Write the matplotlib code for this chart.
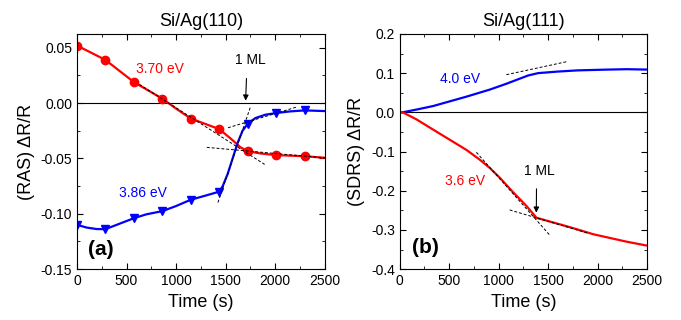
import matplotlib
matplotlib.use('Agg')
import matplotlib.pyplot as plt
from matplotlib.ticker import MultipleLocator, FormatStrFormatter

plt.rcParams['font.family'] = ['Liberation Sans', 'DejaVu Sans']

# Panel (a): Si/Ag(110), RAS
a_red_t = [0, 287, 574, 861, 1148, 1435, 1722, 2009, 2296]
a_red_v = [0.052, 0.039, 0.019, 0.004, -0.014, -0.0235, -0.0434, -0.047, -0.048]
a_red_line_t = [0, 287, 574, 861, 1000, 1148, 1300, 1435, 1550, 1650, 1722,
                1850, 2009, 2150, 2296, 2500]
a_red_line_v = [0.052, 0.039, 0.019, 0.004, -0.005, -0.014, -0.019, -0.0235,
                -0.032, -0.040, -0.0434, -0.0455, -0.047, -0.0475, -0.048, -0.0494]

a_blue_t = [0, 287, 574, 861, 1148, 1435, 1722, 2009, 2296]
a_blue_v = [-0.110, -0.1139, -0.104, -0.0976, -0.0873, -0.080, -0.0187, -0.009, -0.0066]
a_blue_line_t = [0, 100, 200, 287, 400, 574, 700, 861, 1000, 1148, 1300, 1435,
                 1470, 1520, 1570, 1620, 1670, 1722, 1800, 1900, 2009, 2150,
                 2296, 2500]
a_blue_line_v = [-0.110, -0.1125, -0.1138, -0.1139, -0.110, -0.104, -0.1005,
                 -0.0976, -0.093, -0.0873, -0.0835, -0.080, -0.075, -0.064,
                 -0.050, -0.036, -0.025, -0.0187, -0.0135, -0.0105, -0.009,
                 -0.0075, -0.0066, -0.0072]

# tangent lines (a): end points
a_tangents = [([630, 1893], [0.0169, -0.0554]),
              ([1310, 2500], [-0.040, -0.0495]),
              ([1422, 1749], [-0.0898, -0.0036]),
              ([1523, 2214], [-0.0223, -0.0036])]

# Panel (b): Si/Ag(111), SDRS
b_blue_t = [0, 30, 169, 337, 506, 675, 911, 1080, 1215, 1299, 1400, 1600,
            1800, 2100, 2300, 2500]
b_blue_v = [0.0, 0.0, 0.007, 0.016, 0.028, 0.040, 0.058, 0.073, 0.086,
            0.094, 0.100, 0.104, 0.107, 0.109, 0.110, 0.109]
b_red_t = [0, 30, 169, 337, 506, 675, 810, 911, 1012, 1147, 1282, 1383,
           1552, 1721, 1957, 2294, 2500]
b_red_v = [0.0, 0.0, -0.018, -0.044, -0.070, -0.096, -0.121, -0.142, -0.167,
           -0.204, -0.239, -0.269, -0.281, -0.293, -0.311, -0.330, -0.340]
b_tangents = [([1078, 1685], [0.096, 0.129]),
              ([775, 1523], [-0.102, -0.315]),
              ([1112, 1900], [-0.249, -0.308])]

fig = plt.figure(figsize=(6.81, 3.2), dpi=100)
ax1 = fig.add_axes([0.113, 0.159, 0.364, 0.735])
ax2 = fig.add_axes([0.587, 0.159, 0.363, 0.735])

for ax in (ax1, ax2):
    ax.axhline(0, color='black', lw=0.8)
    ax.set_xlim(0, 2500)
    ax.xaxis.set_major_locator(MultipleLocator(500))
    ax.xaxis.set_minor_locator(MultipleLocator(250))
    ax.tick_params(which='both', direction='in', top=True, right=True,
                   labelsize=10)
    ax.tick_params(which='major', length=4)
    ax.tick_params(which='minor', length=2.5)
    ax.set_xlabel('Time (s)', fontsize=13, labelpad=4)

# (a)
ax1.plot(a_red_line_t, a_red_line_v, color='red', lw=1.6)
ax1.plot(a_red_t, a_red_v, 'o', color='red', ms=6)
ax1.plot(a_blue_line_t, a_blue_line_v, color='blue', lw=1.6)
ax1.plot(a_blue_t, a_blue_v, 'v', color='blue', ms=6)
for xs, ys in a_tangents:
    ax1.plot(xs, ys, color='black', ls=(0, (3, 2)), lw=0.7)
ax1.set_ylim(-0.15, 0.0625)
ax1.yaxis.set_major_locator(MultipleLocator(0.05))
ax1.yaxis.set_minor_locator(MultipleLocator(0.025))
ax1.yaxis.set_major_formatter(FormatStrFormatter('%.2f'))
ax1.set_ylabel('(RAS) \u0394R/R', fontsize=13)
ax1.set_title('Si/Ag(110)', fontsize=13, pad=6)
ax1.text(832, 0.0304, '3.70 eV', color='red', fontsize=10, ha='center', va='center')
ax1.text(664, -0.081, '3.86 eV', color='blue', fontsize=10, ha='center', va='center')
ax1.text(243, -0.132, '(a)', fontsize=15, fontweight='bold', ha='center', va='center')
ax1.annotate('1 ML', xy=(1701, 0.0022), xytext=(1745, 0.0386),
             ha='center', va='center', fontsize=10,
             arrowprops=dict(arrowstyle='-|>', color='black', lw=0.8,
                             mutation_scale=8, shrinkA=6, shrinkB=0,
                             relpos=(0.4, 0)))

# (b)
ax2.plot(b_blue_t, b_blue_v, color='blue', lw=1.6)
ax2.plot(b_red_t, b_red_v, color='red', lw=1.6)
for xs, ys in b_tangents:
    ax2.plot(xs, ys, color='black', ls=(0, (3, 2)), lw=0.7)
ax2.set_ylim(-0.4, 0.2)
ax2.yaxis.set_major_locator(MultipleLocator(0.1))
ax2.yaxis.set_minor_locator(MultipleLocator(0.05))
ax2.yaxis.set_major_formatter(FormatStrFormatter('%.1f'))
ax2.set_ylabel('(SDRS) \u0394R/R', fontsize=13)
ax2.set_title('Si/Ag(111)', fontsize=13, pad=6)
ax2.text(606, 0.084, '4.0 eV', color='blue', fontsize=10, ha='center', va='center')
ax2.text(657, -0.175, '3.6 eV', color='red', fontsize=10, ha='center', va='center')
ax2.text(263, -0.346, '(b)', fontsize=15, fontweight='bold', ha='center', va='center')
ax2.annotate('1 ML', xy=(1381, -0.256), xytext=(1415, -0.149),
             ha='center', va='center', fontsize=10,
             arrowprops=dict(arrowstyle='-|>', color='black', lw=0.8,
                             mutation_scale=8, shrinkA=6, shrinkB=0,
                             relpos=(0.4, 0)))

fig.savefig('out.png', dpi=100)
